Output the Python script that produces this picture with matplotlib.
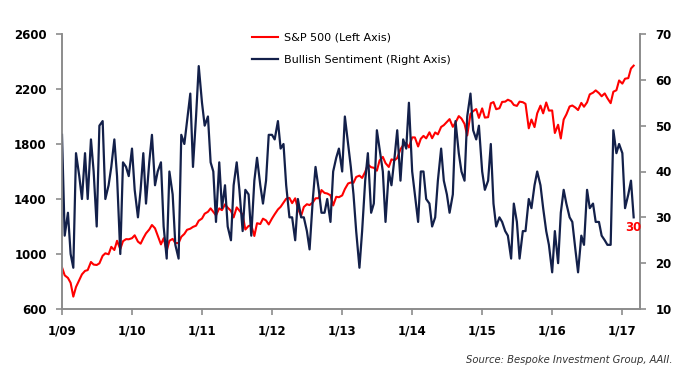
import matplotlib
matplotlib.use("Agg")
import matplotlib.pyplot as plt
import pandas as pd

# semi-monthly points, 1/09 .. 3/17
dates = pd.date_range("2009-01-01", "2017-03-01", freq="SMS")

spx = [
    903, 845, 826, 790, 690, 760, 811, 852, 877, 883, 942, 923, 920, 932, 987, 1005, 998, 1052, 1029, 1096, 1036, 1093, 1108, 1107,
    1115, 1136, 1090, 1075, 1115, 1150, 1178, 1211, 1187, 1135, 1070, 1115, 1023, 1096, 1110, 1079, 1080, 1125, 1146, 1176, 1184, 1197, 1206, 1242,
    1258, 1293, 1307, 1332, 1306, 1281, 1332, 1319, 1361, 1337, 1314, 1266, 1339, 1316, 1286, 1178, 1204, 1209, 1131, 1224, 1218, 1257, 1244, 1215,
    1258, 1289, 1324, 1343, 1374, 1402, 1408, 1370, 1405, 1330, 1278, 1342, 1362, 1356, 1375, 1405, 1406, 1465, 1444, 1440, 1427, 1353, 1416, 1413,
    1426, 1472, 1513, 1520, 1518, 1560, 1570, 1553, 1597, 1650, 1631, 1627, 1606, 1680, 1706, 1661, 1633, 1688, 1682, 1698, 1762, 1791, 1806, 1775,
    1848, 1848, 1782, 1838, 1859, 1841, 1885, 1842, 1884, 1870, 1924, 1937, 1960, 1981, 1925, 1955, 2003, 1985, 1946, 1862, 2018, 2039, 2054, 1990,
    2059, 1992, 1995, 2096, 2105, 2053, 2060, 2106, 2108, 2122, 2111, 2084, 2077, 2108, 2104, 2092, 1914, 1978, 1923, 2023, 2079, 2023, 2102, 2043,
    2044, 1880, 1940, 1840, 1978, 2015, 2073, 2080, 2065, 2047, 2099, 2071, 2103, 2161, 2173, 2190, 2170, 2147, 2168, 2133, 2097, 2180, 2191, 2262,
    2239, 2275, 2279, 2349, 2370,
]

bullish = [
    48, 26, 31, 22, 19, 44, 39, 34, 44, 34, 47, 40, 28, 50, 51, 34, 37, 41, 47, 39, 22, 42, 41, 39,
    45, 36, 30, 36, 44, 33, 42, 48, 37, 40, 42, 28, 21, 40, 35, 24, 21, 48, 46, 51, 57, 41, 52, 63,
    55, 50, 52, 42, 40, 29, 42, 32, 37, 28, 25, 37, 42, 36, 27, 36, 35, 26, 38, 43, 37, 33, 38, 48,
    48, 47, 51, 45, 46, 37, 30, 30, 25, 34, 30, 30, 27, 23, 34, 41, 36, 31, 31, 34, 29, 40, 43, 45,
    40, 52, 46, 41, 35, 27, 19, 27, 38, 44, 31, 33, 49, 45, 40, 29, 40, 37, 43, 49, 38, 47, 45, 55,
    40, 35, 29, 40, 40, 34, 33, 28, 30, 38, 45, 38, 35, 31, 35, 51, 44, 40, 38, 52, 57, 49, 47, 50,
    40, 36, 38, 46, 33, 28, 30, 29, 27, 26, 21, 33, 29, 21, 27, 27, 34, 32, 37, 40, 37, 32, 27, 24,
    18, 27, 20, 31, 36, 33, 30, 29, 23, 18, 26, 24, 36, 32, 33, 29, 29, 26, 25, 24, 24, 49, 44, 46,
    44, 32, 35, 38, 30,
]

xtick_dates = pd.date_range("2009-01-01", "2017-01-01", freq="YS")
xtick_labels = ["1/09", "1/10", "1/11", "1/12", "1/13", "1/14", "1/15", "1/16", "1/17"]
left_ticks = [600, 1000, 1400, 1800, 2200, 2600]
right_ticks = [10, 20, 30, 40, 50, 60, 70]

red = "#ff0000"
navy = "#13204a"
grey = "#8c8c8c"

fig = plt.figure(figsize=(7, 3.73), dpi=100)
ax = fig.add_axes([62 / 700, 1 - 309 / 373, (640 - 62) / 700, (309 - 34) / 373])
ax2 = ax.twinx()

l1, = ax.plot(dates, spx, color=red, lw=1.5)
l2, = ax2.plot(dates, bullish, color=navy, lw=1.6)

ax.set_xlim(pd.Timestamp("2009-01-01"), pd.Timestamp("2017-04-03"))
ax.set_ylim(600, 2600)
ax2.set_ylim(10, 70)
ax.set_xticks(xtick_dates)
ax.set_xticklabels(xtick_labels)
ax.set_yticks(left_ticks)
ax2.set_yticks(right_ticks)

for a in (ax, ax2):
    a.spines["top"].set_visible(False)
    for s in ("left", "right", "bottom"):
        a.spines[s].set_color(grey)
        a.spines[s].set_linewidth(1.2)
    a.tick_params(direction="out", length=4, width=1.2, color=grey,
                  labelsize=8.5, pad=7)
    for t in a.get_xticklabels() + a.get_yticklabels():
        t.set_fontweight("bold")

ax2.annotate(str(bullish[-1]), xy=(dates[-1], bullish[-1]), xytext=(0, -7),
             textcoords="offset points", ha="center", va="center",
             color=red, fontsize=8.5, fontweight="bold")

ax2.legend([l1, l2], ["S&P 500 (Left Axis)", "Bullish Sentiment (Right Axis)"],
           loc="upper left", bbox_to_anchor=(252 / 700, 1 - 33 / 373),
           bbox_transform=fig.transFigure, frameon=False, fontsize=8,
           handlelength=2.35, handletextpad=0.55, labelspacing=1.1,
           borderpad=0, borderaxespad=0)

fig.text(673 / 700, 1 - 360 / 373, "Source: Bespoke Investment Group, AAII.",
         ha="right", va="center", fontsize=7.2, style="italic", color="#333333")

plt.savefig("out.png", dpi=100)
